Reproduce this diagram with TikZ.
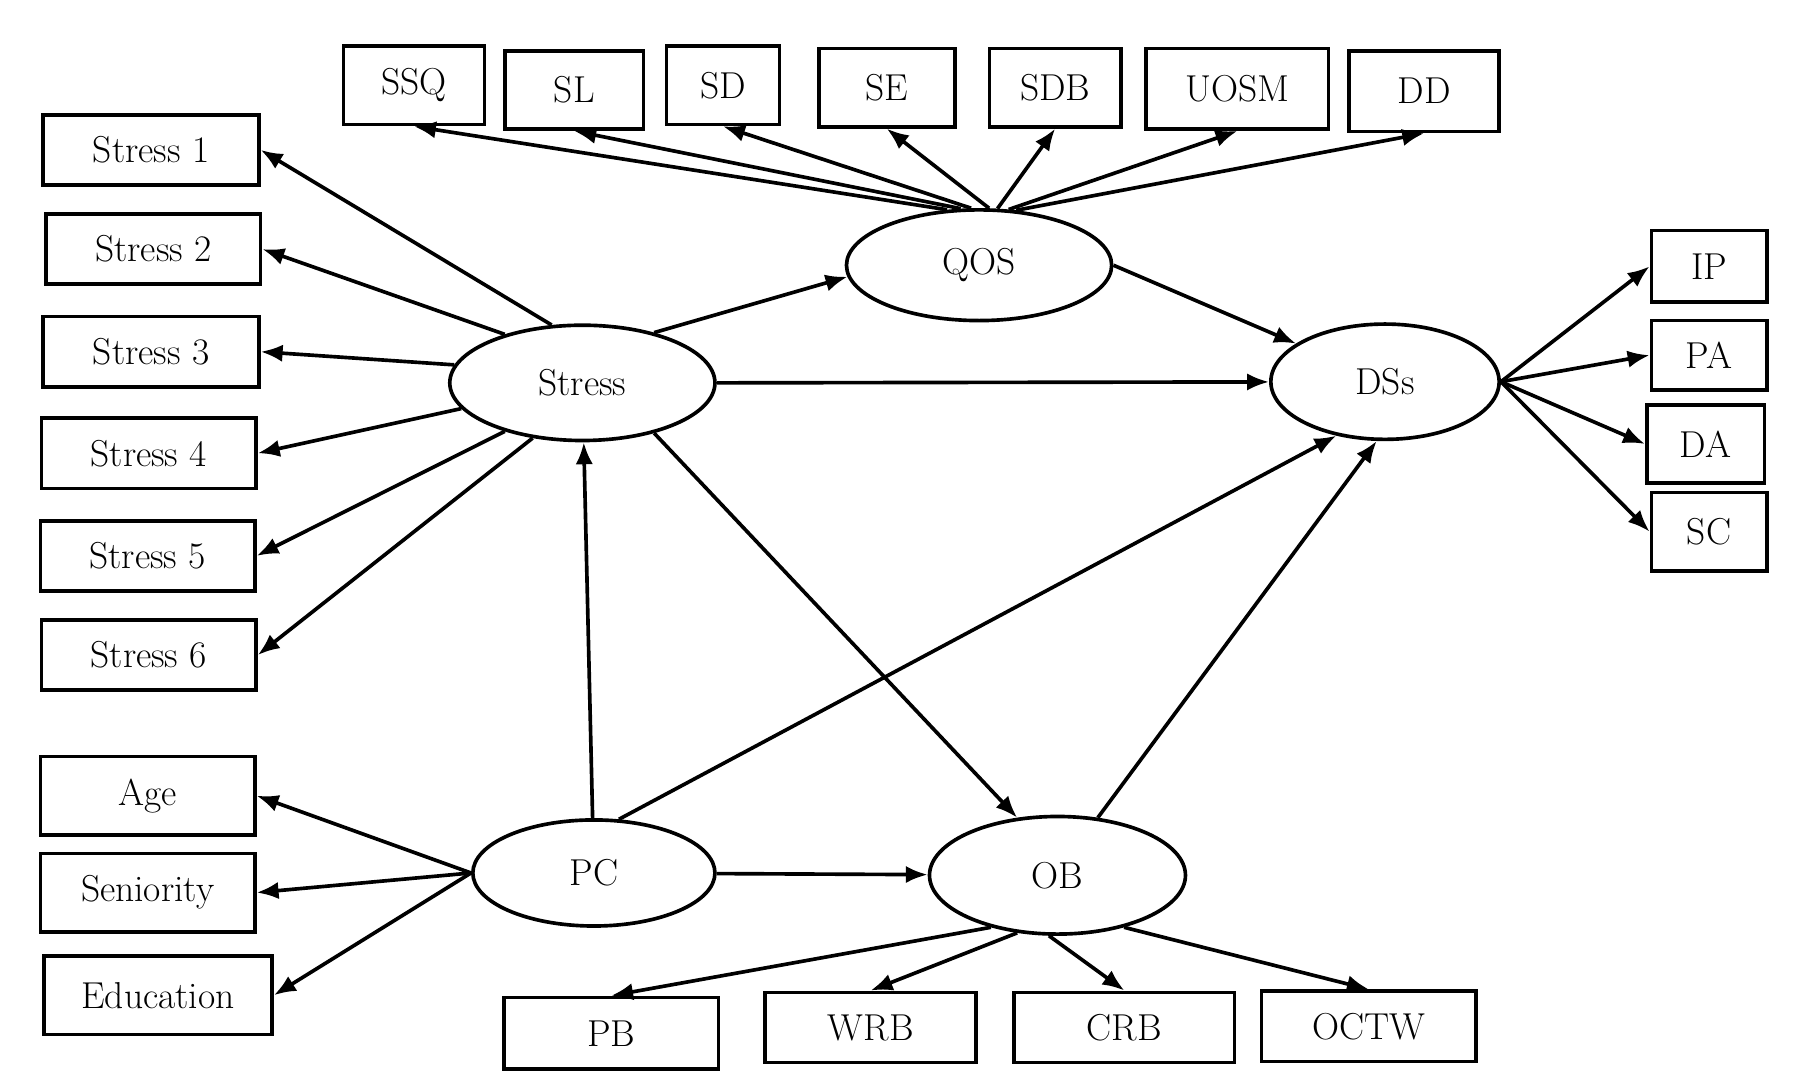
\documentclass[tikz,border=0pt]{standalone}
\usetikzlibrary{arrows.meta,shapes.geometric}
\begin{document}
\begin{tikzpicture}[x=0.02cm,y=-0.02cm,
  bx/.style={draw,line width=1.8pt,minimum height=1.22cm,inner sep=0pt,font=\fontsize{18.5}{21}\selectfont},
  el/.style={draw,ellipse,line width=1.8pt,inner sep=0pt,font=\fontsize{18.5}{21}\selectfont},
  ar/.style={line width=1.8pt,-{Latex[length=0.38cm,width=0.3cm]}}]
\useasboundingbox (0,0) rectangle (1560,942);
\node[bx,minimum width=2.44cm,minimum height=1.36cm] (ssq) at (359,74) {SSQ};
\node[bx,minimum width=2.40cm,minimum height=1.36cm] (sl) at (498,78) {SL};
\node[bx,minimum width=1.96cm,minimum height=1.36cm] (sd) at (627,74) {SD};
\node[bx,minimum width=2.36cm,minimum height=1.36cm] (se) at (769,76) {SE};
\node[bx,minimum width=2.28cm,minimum height=1.36cm] (sdb) at (915,76) {SDB};
\node[bx,minimum width=3.16cm,minimum height=1.40cm] (uosm) at (1073,77) {UOSM};
\node[bx,minimum width=2.60cm,minimum height=1.40cm] (dd) at (1235,79) {DD};
\node[bx,minimum width=3.74cm] (s1) at (131,130) {Stress 1};
\node[bx,minimum width=3.72cm] (s2) at (133,216) {Stress 2};
\node[bx,minimum width=3.74cm] (s3) at (131,305) {Stress 3};
\node[bx,minimum width=3.72cm] (s4) at (129,393) {Stress 4};
\node[bx,minimum width=3.72cm] (s5) at (128,482) {Stress 5};
\node[bx,minimum width=3.72cm] (s6) at (129,568) {Stress 6};
\node[bx,minimum width=3.72cm,minimum height=1.36cm] (age) at (128,690) {Age};
\node[bx,minimum width=3.72cm,minimum height=1.36cm] (sen) at (128,774) {Seniority};
\node[bx,minimum width=3.96cm,minimum height=1.36cm] (edu) at (137,863) {Education};
\node[bx,minimum width=3.72cm,minimum height=1.24cm] (pb) at (530,896) {PB};
\node[bx,minimum width=3.66cm] (wrb) at (755,891) {WRB};
\node[bx,minimum width=3.82cm] (crb) at (975,891) {CRB};
\node[bx,minimum width=3.72cm] (octw) at (1187,890) {OCTW};
\node[bx,minimum width=2.0cm,minimum height=1.24cm] (ip) at (1482,231) {IP};
\node[bx,minimum width=2.0cm,minimum height=1.20cm] (pa) at (1482,308) {PA};
\node[bx,minimum width=2.04cm,minimum height=1.36cm] (da) at (1479,385) {DA};
\node[bx,minimum width=2.0cm,minimum height=1.36cm] (sc) at (1482,461) {SC};
\node[el,minimum width=4.6cm,minimum height=1.92cm] (qos) at (849,230) {QOS};
\node[el,minimum width=4.6cm,minimum height=2.0cm] (st) at (505,332) {Stress};
\node[el,minimum width=3.96cm,minimum height=2.0cm] (dss) at (1201,331) {DSs};
\node[el,minimum width=4.2cm,minimum height=1.84cm] (pc) at (515,757) {PC};
\node[el,minimum width=4.44cm,minimum height=2.04cm] (ob) at (917,759) {OB};
\foreach \b/\a in {s1/118,s2/148,s3/172,s4/192,s5/212,s6/228}
  \draw[ar] (st.\a) -- (\b.east);
\foreach \b/\a in {ssq/120,sl/108,sd/98,se/80,sdb/72,uosm/62,dd/56}
  \draw[ar] (qos.\a) -- (\b.south);
\foreach \b in {ip,pa,da,sc} \draw[ar] (dss.east) -- (\b.west);
\foreach \b in {age,sen,edu} \draw[ar] (pc.west) -- (\b.east);
\foreach \b/\a in {pb/218,wrb/235,crb/262,octw/322} \draw[ar] (ob.\a) -- (\b.north);
\draw[ar] (st.35) -- (qos.185);
\draw[ar] (qos.east) -- (dss);
\draw[ar] (st.east) -- (dss);
\draw[ar] (st.325) -- (ob.125);
\draw[ar] (pc) -- (st);
\draw[ar] (pc.65) -- (dss.228);
\draw[ar] (pc) -- (ob);
\draw[ar] (ob.55) -- (dss.262);
\end{tikzpicture}
\end{document}
